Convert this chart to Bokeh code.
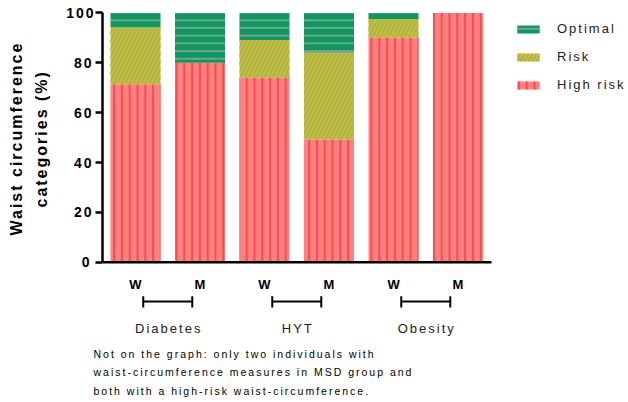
from bokeh.core.properties import value
from bokeh.embed import file_html
from bokeh.models import (ColumnDataSource, FixedTicker, Legend, LegendItem,
                          Range1d, Title)
from bokeh.plotting import figure
from bokeh.resources import INLINE

# ---- data -------------------------------------------------------------
groups = ["Diabetes", "HYT", "Obesity"]
sexes = ["W", "M"]
high_risk = [71.4, 80.0, 74.1, 49.2, 90.2, 100.0]
risk = [22.9, 0.0, 15.1, 35.0, 7.4, 0.0]
optimal = [5.7, 20.0, 10.8, 15.8, 2.4, 0.0]
y_ticks = [0, 20, 40, 60, 80, 100]
note_lines = [
    "Not on the graph: only two individuals with",
    "waist-circumference measures in MSD group and",
    "both with a high-risk waist-circumference.",
]

FONT = "Liberation Sans"
LS = 2  # letter spacing (px) applied to every text of the figure

bar_x = list(range(len(groups) * len(sexes)))
bar_labels = [s for g in groups for s in sexes]
group_x = [2 * i + 0.5 for i in range(len(groups))]
# text is laid out before spacing is added, so pull centred labels back
group_shift = [-(len(g) - 1) * LS / 2 for g in groups]

src = ColumnDataSource(dict(x=bar_x, high=high_risk, risk=risk,
                            optimal=optimal, label=bar_labels))

X0, X1 = -0.5116, 7.643
p = figure(width=628, height=402, output_backend="svg", toolbar_location=None,
           x_range=Range1d(X0, X1), y_range=Range1d(-32.2, 100.2),
           x_axis_location=None,
           min_border_left=102, min_border_right=0,
           min_border_top=12, min_border_bottom=60)
p.title.visible = False
p.outline_line_color = None
p.xgrid.visible = False
p.ygrid.visible = False
p.background_fill_color = "white"
p.border_fill_color = "white"
p.styles = {"letter-spacing": f"{LS}px"}

# ---- y axis -------------------------------------------------------------
yax = p.yaxis[0]
yax.ticker = FixedTicker(ticks=y_ticks)
yax.bounds = (0, 100)
yax.axis_line_width = 2.5
yax.axis_line_color = "black"
yax.major_tick_line_width = 2.5
yax.major_tick_out = 7
yax.major_tick_in = 0
yax.minor_tick_line_color = None
yax.major_label_text_font = FONT
yax.major_label_text_font_style = "bold"
yax.major_label_text_font_size = "14px"
yax.major_label_text_color = "black"
yax.major_label_standoff = 6

# two-line axis title, each line starting a fixed distance above the frame bottom
for txt, off, stand in (("categories (%)", 135, 27), ("Waist circumference", 107, -14)):
    p.add_layout(Title(text=txt, align="left", offset=off, standoff=stand,
                       text_font=FONT, text_font_style="bold",
                       text_font_size="16px", text_color="black"), "left")

# ---- stacked bars ---------------------------------------------------------
bars = p.vbar_stack(
    ["high", "risk", "optimal"], x="x", width=0.775, source=src,
    fill_color=["#ff8080", "#c8c800", "#0a9a60"], line_color=None,
    hatch_pattern=["vertical_line", "right_diagonal_line", "horizontal_line"],
    hatch_color=["#ff4a4a", "#a4a4a4", "#a0a0a0"],
    hatch_weight=[2, 1.5, 1.5], hatch_scale=[7.8, 8, 7.7],
)

# category axis baseline, spanning the bar area only
p.segment(x0=[X0], y0=[0], x1=[5.519], y1=[0], line_color="black",
          line_width=2.5)

# ---- sex labels, group brackets and group names -----------------------------
p.text(x="x", y=-8.95, text="label", source=src,
       text_font=value(FONT), text_font_style="bold", text_font_size="13px",
       text_align="center", text_baseline="middle", text_color="black")

half = 0.38
p.segment(x0=[g - half for g in group_x], y0=-15.8,
          x1=[g + half for g in group_x], y1=-15.8,
          line_color="black", line_width=2)
ends = [g - half for g in group_x] + [g + half for g in group_x]
p.segment(x0=ends, y0=-13.6, x1=ends, y1=-18.2,
          line_color="black", line_width=2)

p.text(x=group_x, y=-26.4, text=groups, x_offset=group_shift,
       text_font=value(FONT), text_font_size="13px",
       text_align="center", text_baseline="middle", text_color="#222222")

# ---- footnote below the chart -------------------------------------------------
p.add_layout(Title(text="\n".join(note_lines), align="left", offset=-9,
                   standoff=7, text_font=FONT, text_font_style="normal",
                   text_font_size="10.5px", text_line_height=1.55,
                   text_color="black"), "below")

# ---- legend -----------------------------------------------------------------
legend = Legend(
    items=[LegendItem(label="Optimal", renderers=[bars[2]]),
           LegendItem(label="Risk", renderers=[bars[1]]),
           LegendItem(label="High risk", renderers=[bars[0]])],
    location=(412, 250), glyph_width=28, glyph_height=10,
    label_standoff=15, spacing=13, padding=0, margin=0,
    label_height=10, border_line_color=None, background_fill_alpha=0,
    label_text_font=FONT, label_text_font_size="13px",
    label_text_color="#222222",
)
p.add_layout(legend)

open("out.html", "w").write(file_html(p, INLINE))
